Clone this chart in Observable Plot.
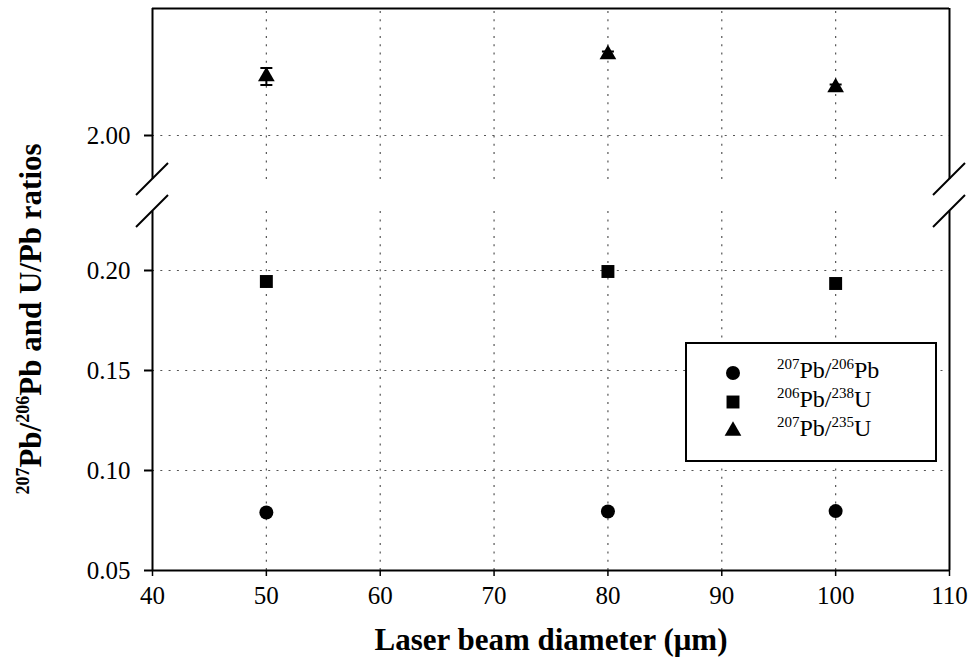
<!DOCTYPE html>
<html>
<head>
<meta charset="utf-8">
<script src="https://cdn.jsdelivr.net/npm/d3@7"></script>
<script src="https://cdn.jsdelivr.net/npm/@observablehq/plot@0.6"></script>
<style>
  html, body { margin: 0; padding: 0; background: white; }
  #chart { width: 971px; height: 664px; position: relative; }
</style>
</head>
<body>
<div id="chart"></div>
<script>
// ---- data ----
const diameters = [50, 80, 100];
const pb207pb206 = [0.0790, 0.0795, 0.0797];
const pb206u238 = [0.1945, 0.1995, 0.1935];
const pb207u235 = [2.059, 2.081, 2.048];
const pb207u235Err = [0.0085, 0.003, 0.003];

const xTicks = [40, 50, 60, 70, 80, 90, 100, 110];
const xGrid = [50, 60, 70, 80, 90, 100];
const yTicks = [0.05, 0.10, 0.15, 0.20, 2.00];
const yGrid = [0.10, 0.15, 0.20, 2.00];
// broken axis: lower panel [0.05, 0.2295], upper panel [1.956, 2.127]
const xDomain = [40, 110];
const lowerPanel = [0.05, 0.2295];
const upperPanel = [1.956, 2.127];
const breakGap = 0.016;      // gap between panels, in lower-panel units
const upperCompress = 0.5;   // upper panel drawn at half the lower panel's scale

const xLabel = "Laser beam diameter (\u03bcm)";
const legendLabels = [
  [["207", true], ["Pb/", false], ["206", true], ["Pb", false]],
  [["206", true], ["Pb/", false], ["238", true], ["U", false]],
  [["207", true], ["Pb/", false], ["235", true], ["U", false]]
];
const legendSymbols = ["circle", "square", "triangle"];
const yLabelParts = [["207", true], ["Pb/", false], ["206", true], ["Pb and U/Pb ratios", false]];

// ---- broken-axis transform ----
const brk = v => v < 1 ? v : lowerPanel[1] + breakGap + (v - upperPanel[0]) * upperCompress;

// ---- derived tables ----
const circles = diameters.map((x, i) => ({x, y: pb207pb206[i]}));
const squares = diameters.map((x, i) => ({x, y: pb206u238[i]}));
const triangles = diameters.map((x, i) => ({x, y: pb207u235[i], lo: pb207u235[i] - pb207u235Err[i], hi: pb207u235[i] + pb207u235Err[i]}));
const segments = [lowerPanel, upperPanel];
const frameSides = [];
for (const x of xDomain) for (const [a, b] of segments) frameSides.push({x, y1: a, y2: b});
const gridV = [];
for (const x of xGrid) for (const [a, b] of segments) gridV.push({x, y1: a, y2: b});

const capSymbol = { draw(ctx) { ctx.moveTo(-6, 0); ctx.lineTo(6, 0); } };
const dash = "2,6.3";
const gridColor = "#555";

const plot = Plot.plot({
  width: 971,
  height: 664,
  marginLeft: 152,
  marginRight: 22,
  marginTop: 8,
  marginBottom: 94,
  style: { fontFamily: "Liberation Serif", fontSize: "25px", color: "black", background: "white" },
  x: { domain: xDomain },
  y: { transform: brk, domain: [brk(lowerPanel[0]), brk(upperPanel[1])] },
  marks: [
    Plot.ruleY(yGrid, { x1: xDomain[0], x2: xDomain[1], y: d => d, stroke: gridColor, strokeWidth: 1.2, strokeDasharray: dash }),
    Plot.ruleX(gridV, { x: "x", y1: "y1", y2: "y2", stroke: gridColor, strokeWidth: 1.2, strokeDasharray: dash }),
    Plot.ruleX(frameSides, { x: "x", y1: "y1", y2: "y2", stroke: "black", strokeWidth: 2 }),
    Plot.ruleY([lowerPanel[0], upperPanel[1]], { x1: xDomain[0], x2: xDomain[1], y: d => d, stroke: "black", strokeWidth: 2 }),
    Plot.axisY(yTicks, { tickFormat: d3.format(".2f"), tickSize: 8, tickPadding: 14, fontSize: 25, strokeWidth: 2, label: null }),
    Plot.axisX(xTicks, { tickSize: 6, tickPadding: 10, fontSize: 25, strokeWidth: 1.5, label: null }),
    Plot.ruleX(triangles, { x: "x", y1: "lo", y2: "hi", stroke: "black", strokeWidth: 2 }),
    Plot.dot(triangles, { x: "x", y: "lo", symbol: capSymbol, stroke: "black", strokeWidth: 2, fill: "none" }),
    Plot.dot(triangles, { x: "x", y: "hi", symbol: capSymbol, stroke: "black", strokeWidth: 2, fill: "none" }),
    Plot.dot(circles, { x: "x", y: "y", symbol: "circle", r: 7, fill: "black" }),
    Plot.dot(squares, { x: "x", y: "y", symbol: "square", r: 7.3, fill: "black" }),
    Plot.dot(triangles, { x: "x", y: "y", symbol: "triangle", r: 6.2, fill: "black" }),
    Plot.text([xLabel], { frameAnchor: "bottom", dy: 79, fontSize: 31, fontWeight: "bold", text: d => d })
  ]
});

document.getElementById("chart").appendChild(plot);
const svg = d3.select(plot);
const xs = plot.scale("x"), ys = plot.scale("y");

// axis break marks on both sides
const breakG = svg.append("g").attr("stroke", "black").attr("stroke-width", 2);
for (const xv of xDomain) {
  const px = xs.apply(xv);
  for (const yv of [lowerPanel[1], upperPanel[0]]) {
    const py = ys.apply(brk(yv));
    breakG.append("line").attr("x1", px - 16).attr("y1", py + 16).attr("x2", px + 16).attr("y2", py - 16);
  }
}

// text with superscripts
function addParts(textSel, parts, bigSize, smallSize, shift) {
  let raised = false;
  for (const [s, sup] of parts) {
    const t = textSel.append("tspan").text(s).attr("font-size", sup ? smallSize : bigSize);
    if (sup && !raised) { t.attr("dy", -shift); raised = true; }
    else if (!sup && raised) { t.attr("dy", shift); raised = false; }
  }
}
const ylab = svg.append("text")
  .attr("transform", "translate(41,319) rotate(-90)")
  .attr("text-anchor", "middle")
  .attr("font-weight", "bold")
  .attr("fill", "black");
addParts(ylab, yLabelParts, 31, 18, 12);

// legend
const lg = svg.append("g");
lg.append("rect").attr("x", 686).attr("y", 343).attr("width", 250).attr("height", 118)
  .attr("fill", "white").attr("stroke", "black").attr("stroke-width", 2);
const symMap = { circle: [d3.symbolCircle, Math.PI * 49], square: [d3.symbolSquare, Math.PI * 7.3 * 7.3], triangle: [d3.symbolTriangle, Math.PI * 6.2 * 6.2] };
const rowY = [373, 402, 431];
legendSymbols.forEach((s, i) => {
  lg.append("path").attr("transform", `translate(733,${rowY[i]})`)
    .attr("d", d3.symbol(symMap[s][0], symMap[s][1])()).attr("fill", "black");
  const t = lg.append("text").attr("x", 777).attr("y", rowY[i] + 5)
    .attr("text-anchor", "start").attr("fill", "black");
  addParts(t, legendLabels[i], 24, 15, 9);
});
</script>
</body>
</html>
